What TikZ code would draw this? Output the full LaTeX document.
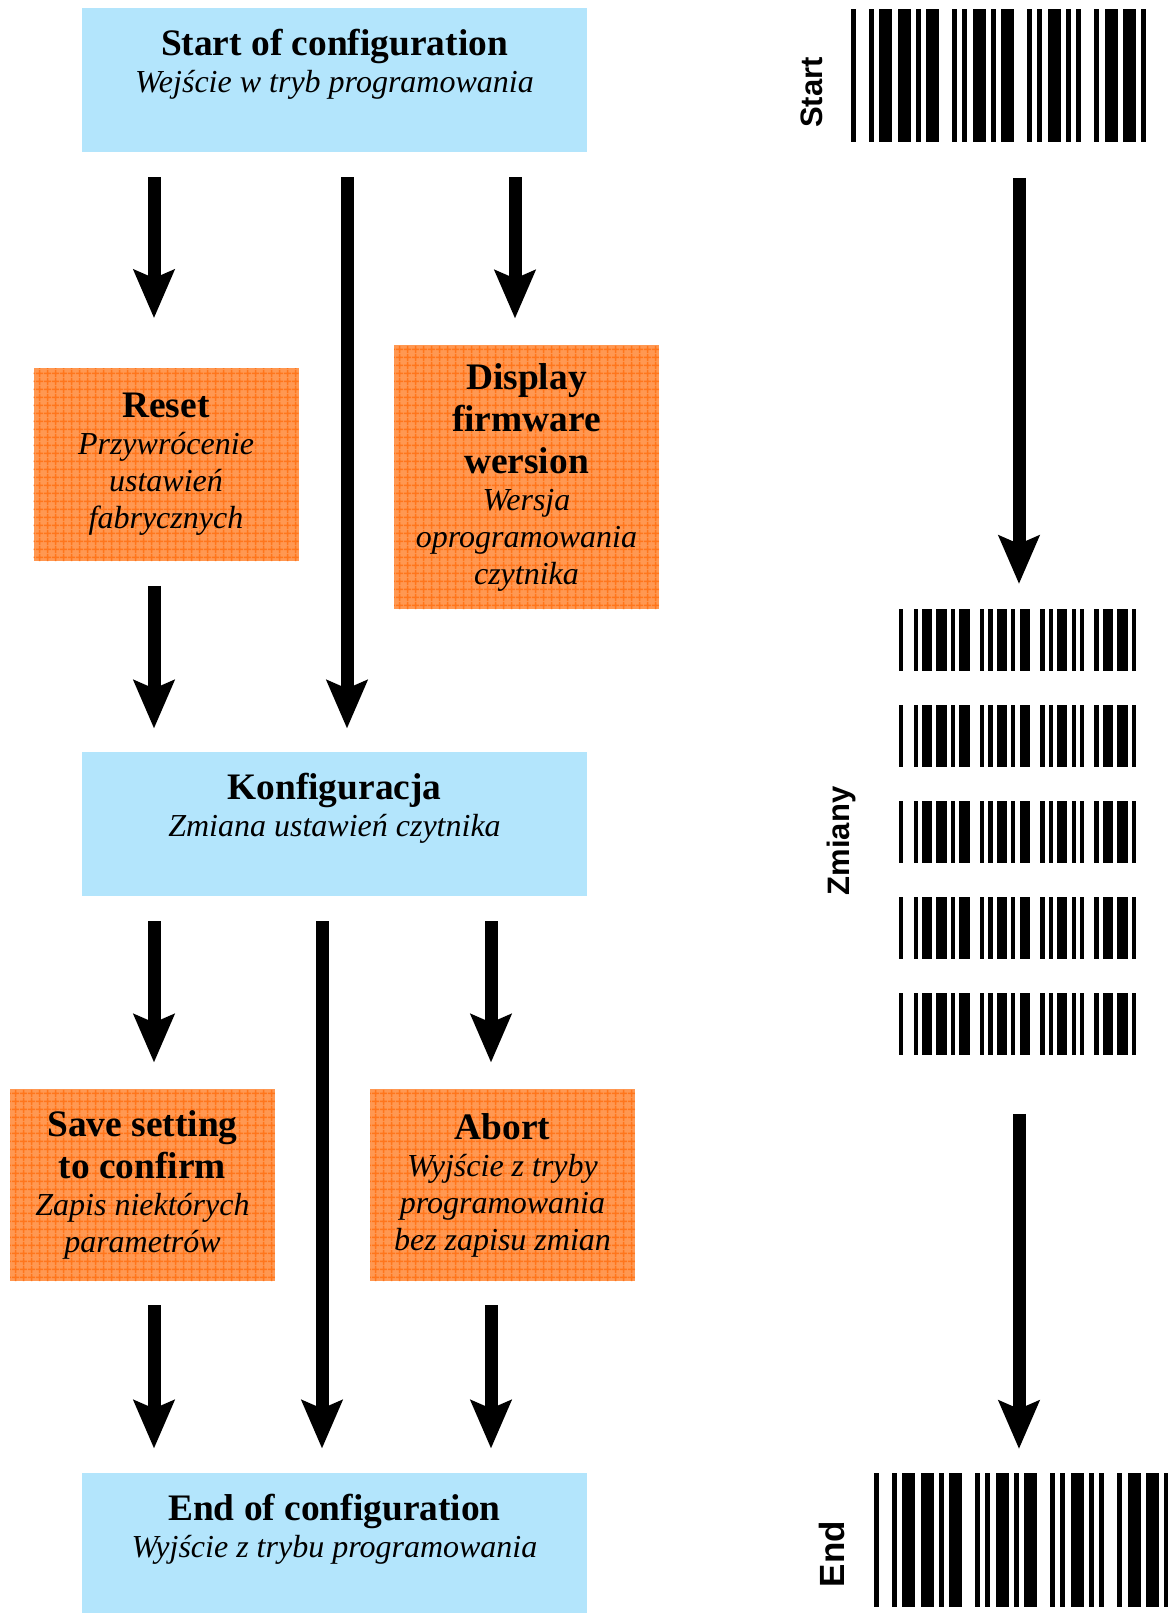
\documentclass[tikz,border=0pt]{standalone}
\usepackage{fontspec}
\setmainfont{Liberation Serif}
\setsansfont{Liberation Sans}
\usetikzlibrary{arrows.meta,patterns.meta}

\definecolor{boxblue}{RGB}{179,229,252}
\definecolor{boxorange}{RGB}{255,152,82}
\definecolor{gridorange}{RGB}{255,118,28}

\newcommand{\titlefont}{\fontsize{18.7pt}{21pt}\selectfont\bfseries\upshape}
\newcommand{\subfont}{\fontsize{16pt}{18.5pt}\selectfont\itshape}

% bars of one code, in modules: left/right
\def\barlist{0/1, 3.5/4.5, 5.5/8, 9/11.5, 12.5/13.5, 14.5/17, 19.5/20.5, 21.5/22.5, 23.5/26, 27/28,
  29/31.5, 34/35, 36/37, 38/40.5, 41.5/42.5, 43.5/44.5, 47/48, 49/51.5, 52.5/55, 56/57}

% name, left, top, module, height
\newcommand{\barcode}[5]{%
  \node[codeframe, minimum width={57*#4*0.5pt}, minimum height={#5*0.5pt}] (#1) at ({#2},{#3}) {};
  \foreach \bl/\br in \barlist
    {\fill ({#2+\bl*#4},{#3}) rectangle ({#2+\br*#4},{#3+#5});}
}

\begin{document}
\begin{tikzpicture}[
  x=0.5pt, y=-0.5pt,
  >={Stealth[length=24pt,width=20pt,inset=4pt]},
  flow/.style={->, line width=6.5pt},
  headbox/.style={fill=boxblue, inner sep=0pt, minimum width=252.5pt, minimum height=72pt,
    align=center, font=\subfont, execute at end node={\rule[-19pt]{0pt}{0pt}}},
  stepbox/.style={preaction={fill=boxorange}, pattern={Hatch[distance=4pt,angle=0,line width=0.8pt]},
    pattern color=gridorange, inner sep=0pt, minimum width=132.5pt, align=center, font=\subfont},
  codeframe/.style={inner sep=0pt, anchor=north west},
  codelabel/.style={font=\sffamily\bfseries\fontsize{15.5pt}{18pt}\selectfont, rotate=90, anchor=base, inner sep=0pt},
]
\useasboundingbox (0,0) rectangle (1168,1613);
\clip (0,0) rectangle (1168,1613);

% flow chart
\node[headbox] (start) at (334.5,80) {{\titlefont Start of configuration}\\ Wejście w tryb programowania};

\node[stepbox, minimum height=96.5pt] (reset) at (166,464.5)
  {{\titlefont Reset}\\ Przywrócenie\\ ustawień\\ fabrycznych};
\node[stepbox, minimum height=132pt] (firmware) at (526.5,477)
  {{\titlefont Display}\\[2.5pt] {\titlefont firmware}\\[2.5pt] {\titlefont wersion}\\ Wersja\\ oprogramowania\\ czytnika};

\node[headbox] (config) at (334.5,824) {{\titlefont Konfiguracja}\\ Zmiana ustawień czytnika};

\node[stepbox, minimum height=96pt] (save) at (142.5,1185)
  {{\titlefont Save setting}\\[2.5pt] {\titlefont to confirm}\\ Zapis niektórych\\ parametrów};
\node[stepbox, minimum height=96pt] (abort) at (502.5,1185)
  {{\titlefont Abort}\\ Wyjście z tryby\\ programowania\\ bez zapisu zmian};

\node[headbox] (finish) at (334.5,1545) {{\titlefont End of configuration}\\ Wyjście z trybu programowania};

\coordinate (colA) at (154,0);
\coordinate (colB) at (347,0);
\coordinate (colC) at (515,0);
\coordinate (colD) at (322,0);
\coordinate (colE) at (491,0);
\coordinate (colR) at (1019,0);

\draw[flow, shorten <=12.5pt, shorten >=24.5pt] (start.south -| colA) -- (reset.north -| colA);
\draw[flow, shorten <=12.5pt, shorten >=11.5pt] (start.south -| colB) -- (config.north -| colB);
\draw[flow, shorten <=12.5pt, shorten >=13pt] (start.south -| colC) -- (firmware.north -| colC);
\draw[flow, shorten <=12pt, shorten >=11.5pt] (reset.south -| colA) -- (config.north -| colA);

\draw[flow, shorten <=12.5pt, shorten >=13pt] (config.south -| colA) -- (save.north -| colA);
\draw[flow, shorten <=12.5pt, shorten >=12pt] (config.south -| colD) -- (finish.north -| colD);
\draw[flow, shorten <=12.5pt, shorten >=13pt] (config.south -| colE) -- (abort.north -| colE);
\draw[flow, shorten <=12pt, shorten >=12pt] (save.south -| colA) -- (finish.north -| colA);
\draw[flow, shorten <=12pt, shorten >=12pt] (abort.south -| colE) -- (finish.north -| colE);

% codes
\barcode{startcode}{851}{9}{5.175}{133}
\foreach \i in {1,...,5}
  {\barcode{zm\i}{899}{609+96*(\i-1)}{4.158}{62}}
\barcode{endcode}{874}{1473}{5.175}{134}

\node[codelabel] (startlbl) at (822,92.5) {Start};
\node[codelabel] (zmlbl) at (849,841) {Zmiany};
\node[codelabel, font=\sffamily\bfseries\fontsize{17.5pt}{20pt}\selectfont] (endlbl) at (844,1554) {End};

\draw[flow, shorten <=17.5pt, shorten >=12.5pt] (startcode.south -| colR) -- (zm1.north -| colR);
\draw[flow, shorten <=29pt, shorten >=12pt] (zm5.south -| colR) -- (endcode.north -| colR);

\end{tikzpicture}
\end{document}
